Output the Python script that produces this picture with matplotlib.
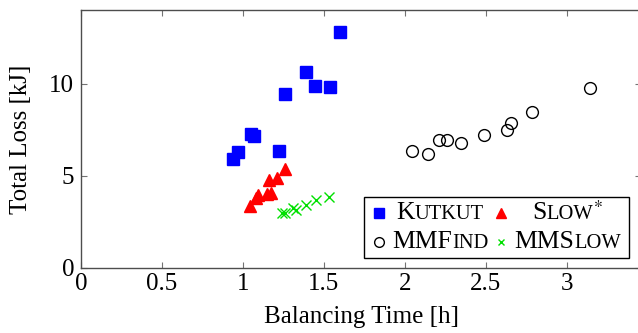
import matplotlib
matplotlib.use("Agg")
import matplotlib.pyplot as plt
from matplotlib.offsetbox import AnchoredOffsetbox, HPacker, VPacker, TextArea, DrawingArea
from matplotlib.lines import Line2D

plt.rcParams['font.family'] = ['Liberation Serif', 'DejaVu Serif']
plt.rcParams['mathtext.fontset'] = 'stix'

# -- data --
kutkut_t = [1.60, 1.389, 1.446, 1.537, 1.259, 1.049, 1.07, 0.971, 0.94, 1.222]
kutkut_loss = [12.80, 10.63, 9.91, 9.86, 9.47, 7.28, 7.19, 6.29, 5.92, 6.38]

slow_t = [1.263, 1.208, 1.162, 1.152, 1.171, 1.095, 1.084, 1.043]
slow_loss = [5.38, 4.89, 4.80, 4.02, 4.06, 3.97, 3.79, 3.39]

mmfind_t = [2.047, 2.146, 2.212, 2.263, 2.35, 2.488, 2.632, 2.659, 2.788, 3.142]
mmfind_loss = [6.36, 6.20, 6.96, 6.96, 6.79, 7.21, 7.50, 7.90, 8.46, 9.77]

mmslow_t = [1.243, 1.263, 1.31, 1.327, 1.389, 1.455, 1.533]
mmslow_loss = [2.99, 3.00, 3.24, 3.17, 3.44, 3.70, 3.84]

x_ticks = [0, 0.5, 1, 1.5, 2, 2.5, 3]
x_ticklabels = ["0", "0.5", "1", "1.5", "2", "2.5", "3"]
y_ticks = [0, 5, 10]

FS = 18
LFS = 18.5       # legend text
SC = LFS * 0.8   # small caps size

fig = plt.figure(figsize=(6.38, 3.33), dpi=100)
W, H = 638, 333
ax = fig.add_axes([81 / W, (H - 268) / H, (641 - 81) / W, (268 - 10) / H])

ax.plot(kutkut_t, kutkut_loss, ls='none', marker='s', ms=8.5, color='#0000ff', mec='#0000ff')
ax.plot(slow_t, slow_loss, ls='none', marker='^', ms=9, color='#ff0000', mec='#ff0000')
ax.plot(mmfind_t, mmfind_loss, ls='none', marker='o', ms=8.5, mfc='none', mec='black', mew=1.0)
ax.plot(mmslow_t, mmslow_loss, ls='none', marker='x', ms=7, color='#00e000', mew=1.0)

ax.set_xlim(0, 3.46)
ax.set_ylim(0, 14.02)
ax.set_xticks(x_ticks)
ax.set_xticklabels(x_ticklabels)
ax.set_yticks(y_ticks)
ax.tick_params(direction='in', top=True, right=True, length=4, width=0.8,
               color='0.45', labelsize=FS)
ax.tick_params(axis='x', pad=3.5)
ax.tick_params(axis='y', pad=5)
for s in ax.spines.values():
    s.set_color('0.3')
    s.set_linewidth(1.0)

ax.set_xlabel("Balancing Time [h]", fontsize=FS, labelpad=8)
ax.set_ylabel("Total Loss [kJ]", fontsize=FS, labelpad=12)


# -- legend: small caps labels, text centered in each column like pgfplots --
def sc_label(parts, width):
    boxes = [TextArea(txt, textprops=dict(fontsize=LFS if big else SC)) for txt, big in parts]
    row = HPacker(children=boxes, align="baseline", pad=0, sep=0)
    return VPacker(children=[row], width=width, align="center", pad=0, sep=0)


def marker_box(**kw):
    da = DrawingArea(14, 14, 0, 0)
    da.add_artist(Line2D([7], [7], ls='none', **kw))
    return da


c1, c2 = 103, 113
row1 = HPacker(children=[marker_box(marker='s', ms=7.5, color='#0000ff'),
                         sc_label([("K", True), ("UTKUT", False)], c1),
                         marker_box(marker='^', ms=7.5, color='#ff0000'),
                         sc_label([("S", True), ("LOW", False), ("$^{*}$", True)], c2)],
               align="center", pad=0, sep=0)
row2 = HPacker(children=[marker_box(marker='o', ms=7, mfc='none', mec='black', mew=1.0),
                         sc_label([("MMF", True), ("IND", False)], c1),
                         marker_box(marker='x', ms=5, color='#00e000', mew=1.0),
                         sc_label([("MMS", True), ("LOW", False)], c2)],
               align="center", pad=0, sep=0)
grid = VPacker(children=[row1, row2], align="left", pad=0, sep=5)

leg = AnchoredOffsetbox(loc='lower right', child=grid, pad=0.35, borderpad=0,
                        frameon=True, bbox_to_anchor=((629 - 81) / 560, (268 - 258) / 258),
                        bbox_transform=ax.transAxes)
leg.patch.set_edgecolor('black')
leg.patch.set_linewidth(1.0)
leg.patch.set_boxstyle("square", pad=0)
ax.add_artist(leg)

fig.savefig("out.png", dpi=100)
